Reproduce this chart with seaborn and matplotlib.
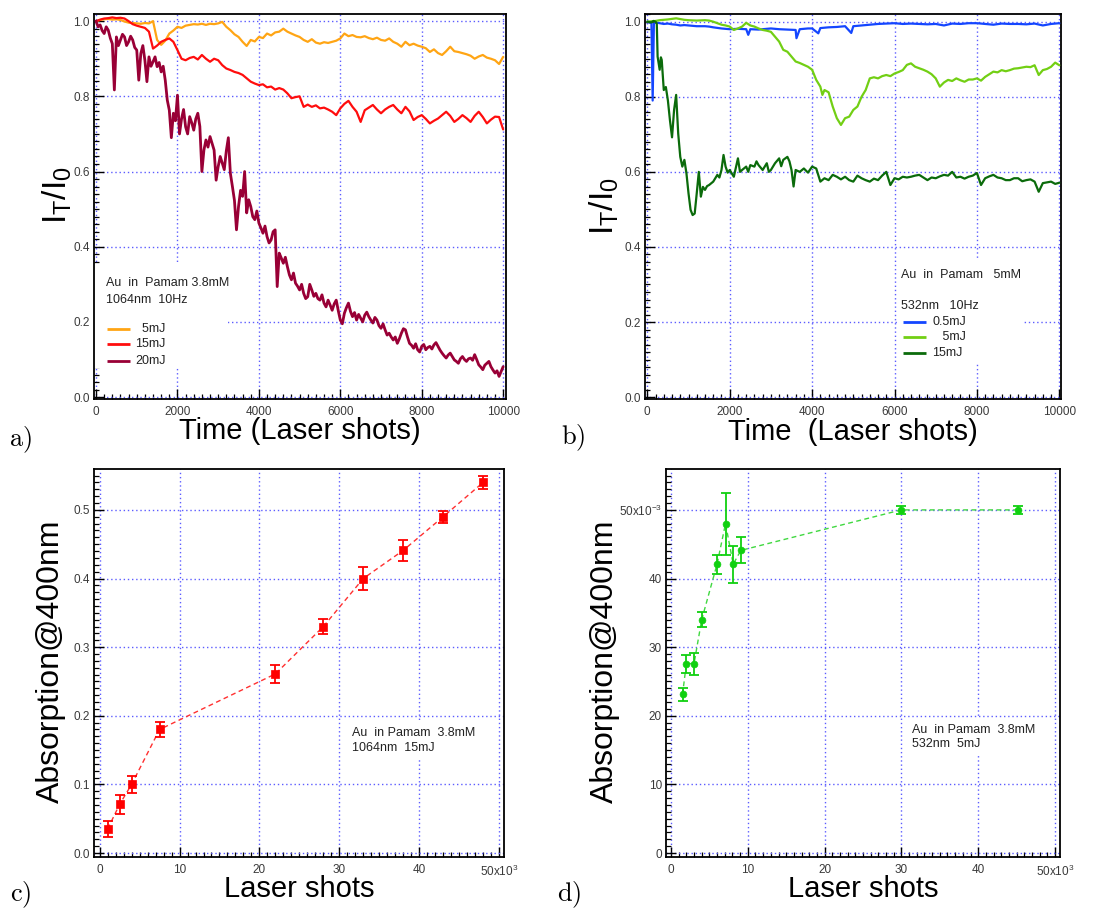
import numpy as np
import pandas as pd
import matplotlib
matplotlib.use("Agg")
import matplotlib.pyplot as plt
import seaborn as sns
from matplotlib.ticker import MultipleLocator, FuncFormatter
from matplotlib.patches import Rectangle

# ---------------------------------------------------------------- data
# a) Au in Pamam 3.8 mM, 1064 nm, 10 Hz : transmission I_T/I_0 vs laser shots
shots_a = list(range(0, 10001, 100))
t_5mJ = [1.000, 1.003, 1.005, 1.006, 1.004, 1.005, 1.003, 0.999, 0.996, 0.995,
         0.994, 0.993, 0.995, 0.994, 1.000, 0.950, 0.937, 0.948, 0.967, 0.975,
         0.985, 0.982, 0.988, 0.990, 0.992, 0.991, 0.993, 0.990, 0.993, 0.992,
         0.994, 0.998, 0.985, 0.976, 0.965, 0.958, 0.945, 0.934, 0.950, 0.946,
         0.958, 0.955, 0.967, 0.962, 0.970, 0.972, 0.980, 0.972, 0.967, 0.962,
         0.958, 0.950, 0.945, 0.952, 0.943, 0.940, 0.944, 0.942, 0.945, 0.948,
         0.954, 0.967, 0.960, 0.963, 0.958, 0.957, 0.960, 0.955, 0.952, 0.956,
         0.950, 0.948, 0.954, 0.945, 0.940, 0.932, 0.945, 0.936, 0.940, 0.935,
         0.932, 0.928, 0.918, 0.925, 0.915, 0.910, 0.920, 0.932, 0.920, 0.918,
         0.915, 0.912, 0.908, 0.900, 0.906, 0.910, 0.903, 0.900, 0.896, 0.886,
         0.905]
t_15mJ = [1.000, 1.004, 1.007, 1.008, 1.010, 1.008, 1.009, 1.007, 1.000, 0.992,
          0.988, 0.985, 0.982, 0.972, 0.927, 0.935, 0.945, 0.950, 0.954, 0.945,
          0.923, 0.900, 0.896, 0.902, 0.905, 0.898, 0.910, 0.900, 0.892, 0.900,
          0.896, 0.883, 0.874, 0.870, 0.865, 0.862, 0.857, 0.848, 0.839, 0.834,
          0.830, 0.832, 0.824, 0.826, 0.818, 0.822, 0.818, 0.808, 0.795, 0.798,
          0.800, 0.772, 0.778, 0.772, 0.776, 0.768, 0.770, 0.765, 0.759, 0.750,
          0.768, 0.780, 0.788, 0.772, 0.759, 0.732, 0.763, 0.770, 0.777, 0.765,
          0.755, 0.765, 0.772, 0.777, 0.765, 0.755, 0.772, 0.760, 0.737, 0.745,
          0.750, 0.740, 0.728, 0.735, 0.741, 0.750, 0.759, 0.748, 0.732, 0.740,
          0.750, 0.742, 0.732, 0.748, 0.759, 0.745, 0.728, 0.738, 0.746, 0.745,
          0.712]
shots_a20 = list(range(0, 10001, 50))
t_20mJ = [1.000, 0.985, 0.990, 0.975, 0.967, 0.985, 0.976, 0.955, 0.940, 0.817,
          0.958, 0.935, 0.950, 0.965, 0.958, 0.935, 0.945, 0.960, 0.950, 0.930,
          0.923, 0.843, 0.914, 0.935, 0.896, 0.839, 0.905, 0.880, 0.892, 0.905,
          0.879, 0.890, 0.865, 0.880, 0.843, 0.790, 0.763, 0.690, 0.755, 0.735,
          0.803, 0.700, 0.740, 0.765, 0.719, 0.700, 0.746, 0.730, 0.710, 0.740,
          0.755, 0.720, 0.600, 0.657, 0.684, 0.665, 0.693, 0.675, 0.657, 0.577,
          0.613, 0.640, 0.622, 0.605, 0.655, 0.690, 0.595, 0.560, 0.523, 0.445,
          0.507, 0.550, 0.534, 0.600, 0.490, 0.525, 0.507, 0.480, 0.472, 0.495,
          0.463, 0.450, 0.436, 0.455, 0.427, 0.410, 0.418, 0.440, 0.445, 0.294,
          0.383, 0.370, 0.356, 0.372, 0.347, 0.325, 0.312, 0.330, 0.303, 0.295,
          0.285, 0.300, 0.276, 0.262, 0.267, 0.300, 0.285, 0.268, 0.276, 0.262,
          0.258, 0.272, 0.250, 0.240, 0.258, 0.245, 0.231, 0.248, 0.258, 0.230,
          0.205, 0.195, 0.223, 0.238, 0.250, 0.228, 0.214, 0.225, 0.205, 0.220,
          0.210, 0.200, 0.218, 0.226, 0.214, 0.205, 0.197, 0.212, 0.205, 0.190,
          0.183, 0.195, 0.179, 0.165, 0.170, 0.160, 0.152, 0.160, 0.143, 0.155,
          0.170, 0.182, 0.179, 0.160, 0.143, 0.138, 0.130, 0.142, 0.126, 0.120,
          0.135, 0.140, 0.126, 0.132, 0.135, 0.128, 0.139, 0.145, 0.135, 0.125,
          0.117, 0.110, 0.104, 0.112, 0.117, 0.108, 0.099, 0.095, 0.090, 0.102,
          0.108, 0.100, 0.095, 0.102, 0.104, 0.098, 0.113, 0.100, 0.086, 0.080,
          0.073, 0.085, 0.090, 0.095, 0.081, 0.072, 0.064, 0.070, 0.055, 0.068,
          0.081]

# b) Au in Pamam 5 mM, 532 nm, 10 Hz
shots_b05 = [0, 50, 100, 130, 160, 200, 300, 400, 500, 600, 700, 800, 900, 1000,
             1200, 1400, 1500, 1600, 1800, 2000, 2200, 2400, 2450, 2500, 2700,
             3000, 3200, 3400, 3600, 3620, 3700, 3900, 4000, 4150, 4200, 4400,
             4600, 4800, 4950, 5000, 5200, 5400, 5600, 5800, 6000, 6200, 6400,
             6600, 6800, 7000, 7200, 7400, 7600, 7800, 8000, 8200, 8400, 8600,
             8800, 9000, 9200, 9400, 9600, 9800, 10000]
t_05mJ = [1.000, 0.998, 0.996, 0.790, 0.995, 0.998, 0.996, 0.994, 0.995, 0.993,
          0.992, 0.990, 0.991, 0.990, 0.988, 0.988, 0.987, 0.985, 0.982, 0.980,
          0.981, 0.980, 0.965, 0.980, 0.979, 0.982, 0.980, 0.979, 0.978, 0.956,
          0.980, 0.982, 0.982, 0.969, 0.983, 0.985, 0.986, 0.988, 0.970, 0.988,
          0.990, 0.992, 0.994, 0.995, 0.996, 0.994, 0.995, 0.994, 0.993, 0.994,
          0.990, 0.995, 0.994, 0.996, 0.996, 0.994, 0.992, 0.995, 0.994, 0.994,
          0.993, 0.995, 0.990, 0.994, 0.996]
shots_b5 = [0, 200, 300, 500, 700, 900, 1000, 1200, 1400, 1500, 1600, 1700,
            1800, 1900, 2000, 2100, 2200, 2300, 2400, 2500, 2600, 2700, 2800,
            2900, 3000, 3100, 3200, 3300, 3400, 3500, 3600, 3700, 3800, 3900,
            4000, 4100, 4200, 4250, 4300, 4400, 4500, 4600, 4700, 4800, 4900,
            5000, 5100, 5200, 5300, 5400, 5500, 5600, 5700, 5800, 5900, 6000,
            6100, 6200, 6300, 6400, 6500, 6600, 6700, 6800, 6900, 7000, 7100,
            7200, 7300, 7400, 7500, 7600, 7700, 7800, 7900, 8000, 8100, 8200,
            8300, 8400, 8500, 8600, 8700, 8800, 8900, 9000, 9100, 9200, 9300,
            9400, 9500, 9600, 9700, 9800, 9900, 10000]
t_5mJ_b = [1.000, 1.002, 1.004, 1.006, 1.009, 1.005, 1.004, 1.003, 1.004, 1.003,
           1.000, 0.996, 0.992, 0.990, 0.987, 0.978, 0.982, 0.987, 0.997, 0.990,
           0.987, 0.982, 0.978, 0.976, 0.973, 0.960, 0.947, 0.925, 0.920, 0.907,
           0.894, 0.890, 0.885, 0.880, 0.872, 0.845, 0.827, 0.805, 0.818, 0.812,
           0.774, 0.743, 0.725, 0.743, 0.747, 0.765, 0.774, 0.800, 0.818, 0.849,
           0.852, 0.849, 0.855, 0.858, 0.855, 0.862, 0.866, 0.871, 0.885, 0.889,
           0.880, 0.876, 0.872, 0.867, 0.860, 0.849, 0.827, 0.838, 0.845, 0.842,
           0.849, 0.844, 0.840, 0.846, 0.846, 0.849, 0.843, 0.853, 0.860, 0.867,
           0.865, 0.871, 0.868, 0.871, 0.875, 0.876, 0.878, 0.880, 0.879, 0.884,
           0.858, 0.871, 0.874, 0.880, 0.891, 0.884]
shots_b15 = [0, 100, 150, 200, 230, 250, 300, 330, 350, 400, 450, 500, 550, 600,
             650, 700, 750, 800, 850, 900, 950, 1000, 1050, 1100, 1150, 1200,
             1250, 1300, 1350, 1400, 1450, 1500, 1600, 1700, 1750, 1800, 1850,
             1900, 1950, 2000, 2100, 2200, 2250, 2300, 2400, 2450, 2500, 2600,
             2650, 2700, 2800, 2900, 2950, 3000, 3100, 3200, 3250, 3300, 3400,
             3450, 3500, 3550, 3600, 3700, 3800, 3900, 4000, 4100, 4200, 4300,
             4400, 4500, 4600, 4700, 4800, 4900, 5000, 5100, 5200, 5300, 5400,
             5500, 5600, 5700, 5800, 5900, 6000, 6100, 6200, 6300, 6400, 6500,
             6600, 6700, 6800, 6900, 7000, 7100, 7200, 7300, 7400, 7500, 7600,
             7700, 7800, 7900, 8000, 8100, 8200, 8300, 8400, 8500, 8600, 8700,
             8800, 8900, 9000, 9100, 9200, 9300, 9400, 9500, 9600, 9700, 9800,
             9900, 10000]
t_15mJ_b = [1.000, 0.998, 1.002, 1.000, 0.995, 0.907, 0.872, 0.905, 0.898, 0.818,
            0.826, 0.790, 0.737, 0.692, 0.765, 0.805, 0.702, 0.640, 0.614, 0.632,
            0.596, 0.543, 0.499, 0.485, 0.489, 0.543, 0.600, 0.534, 0.560, 0.552,
            0.562, 0.565, 0.574, 0.592, 0.585, 0.605, 0.645, 0.614, 0.598, 0.605,
            0.587, 0.636, 0.600, 0.605, 0.614, 0.600, 0.618, 0.614, 0.628, 0.618,
            0.605, 0.623, 0.600, 0.605, 0.623, 0.636, 0.615, 0.632, 0.640, 0.628,
            0.605, 0.561, 0.605, 0.600, 0.609, 0.598, 0.614, 0.609, 0.574, 0.583,
            0.578, 0.592, 0.587, 0.580, 0.587, 0.578, 0.574, 0.590, 0.583, 0.578,
            0.574, 0.582, 0.578, 0.590, 0.600, 0.565, 0.583, 0.580, 0.587, 0.585,
            0.587, 0.590, 0.592, 0.585, 0.578, 0.585, 0.583, 0.588, 0.592, 0.590,
            0.600, 0.585, 0.587, 0.582, 0.587, 0.590, 0.597, 0.565, 0.583, 0.588,
            0.592, 0.585, 0.583, 0.578, 0.578, 0.583, 0.583, 0.575, 0.578, 0.580,
            0.574, 0.547, 0.570, 0.572, 0.574, 0.568, 0.571]

# c) absorption at 400 nm, 1064 nm / 15 mJ (x in units of 10^3 shots)
shots_c = [1.0, 2.5, 4.0, 7.5, 22.0, 28.0, 33.0, 38.0, 43.0, 48.0]
abs_c = [0.035, 0.071, 0.100, 0.180, 0.261, 0.330, 0.400, 0.441, 0.490, 0.540]
err_c = [0.011, 0.014, 0.012, 0.011, 0.013, 0.011, 0.017, 0.015, 0.009, 0.010]

# d) absorption at 400 nm, 532 nm / 5 mJ (x in units of 10^3 shots)
shots_d = [1.5, 2.0, 3.0, 4.0, 6.0, 7.1, 8.1, 9.1, 30.0, 45.2]
abs_d = [0.0231, 0.0276, 0.0276, 0.0340, 0.0421, 0.0480, 0.0421, 0.0441, 0.0500, 0.0500]
err_d = [0.0010, 0.0013, 0.0016, 0.0011, 0.0014, 0.0045, 0.0027, 0.0019, 0.0006, 0.0006]

# ---------------------------------------------------------------- style
sns.set_theme(style="white")
plt.rcParams["font.family"] = ["Liberation Sans", "DejaVu Sans"]
plt.rcParams["mathtext.fontset"] = "cm"
plt.rcParams["axes.axisbelow"] = True

C_ORANGE = "#ffa514"
C_RED = "#ff0d0d"
C_MAROON = "#990036"
C_BLUE = "#1446ff"
C_LIME = "#72cf14"
C_DGREEN = "#0b6b0b"
GRID = "#5c5cff"
TICKCOL = "#3a3a3a"

W, H = 1094, 911
fig = plt.figure(figsize=(W / 100, H / 100), dpi=100)
fig.patch.set_facecolor("white")


def frame_axes(left, top, right, bottom):
    return fig.add_axes([left / W, 1 - bottom / H, (right - left) / W, (bottom - top) / H])


def style_axes(ax, xmaj, xmin, ymaj, ymin):
    ax.set_facecolor("white")
    for s in ax.spines.values():
        s.set_color("black")
        s.set_linewidth(1.3)
    ax.xaxis.set_major_locator(MultipleLocator(xmaj))
    ax.xaxis.set_minor_locator(MultipleLocator(xmin))
    ax.yaxis.set_major_locator(MultipleLocator(ymaj))
    ax.yaxis.set_minor_locator(MultipleLocator(ymin))
    ax.tick_params(which="both", direction="in", top=False, right=False,
                   bottom=True, left=True, color="black")
    ax.tick_params(which="major", length=7, width=1.0, labelsize=8.5,
                   labelcolor=TICKCOL)
    ax.tick_params(which="minor", length=3.5, width=0.9)
    ax.tick_params(axis="x", pad=5)
    ax.tick_params(axis="y", pad=3)
    ax.grid(True, which="major", color=GRID, linestyle=(0, (1, 2)), linewidth=1.0)


def legend_block(ax, x0, y_lines, y_entries, header, entries, line_x, label_x):
    for y, txt in zip(y_lines, header):
        ax.text(x0, y, txt, transform=ax.transAxes, fontsize=9, color="#222222",
                va="center", ha="left", zorder=5)
    for y, (lab, col) in zip(y_entries, entries):
        ax.plot(line_x, [y, y], transform=ax.transAxes, color=col, lw=2.0,
                solid_capstyle="butt", zorder=5)
        ax.text(label_x, y, lab, transform=ax.transAxes, fontsize=9,
                color="#222222", va="center", ha="left", zorder=5)


def time_plot(ax, series, xlim, ylim):
    for xs, ys, col, lw in series:
        df = pd.DataFrame({"shots": xs, "ratio": ys})
        sns.lineplot(data=df, x="shots", y="ratio", ax=ax, color=col, lw=lw,
                     estimator=None, sort=False, zorder=3)
    ax.set_xlim(*xlim)
    ax.set_ylim(*ylim)
    style_axes(ax, 2000, 200, 0.2, 0.02)
    ax.yaxis.set_major_formatter(FuncFormatter(lambda v, p: f"{v:.1f}"))
    ax.xaxis.set_major_formatter(FuncFormatter(lambda v, p: f"{v:.0f}"))


# ---------------------------------------------------------------- panel a
ax_a = frame_axes(94, 14, 506, 399)
time_plot(ax_a, [(shots_a, t_5mJ, C_ORANGE, 1.6),
                 (shots_a, t_15mJ, C_RED, 1.6),
                 (shots_a20, t_20mJ, C_MAROON, 2.0)],
          (-50, 10070), (-0.005, 1.019))
ax_a.add_patch(Rectangle((0.0, 0.08), 0.325, 0.27, transform=ax_a.transAxes,
                         facecolor="white", edgecolor="none", zorder=1.5))
legend_block(ax_a, 0.03, [0.30, 0.258], [0.183, 0.142, 0.100],
             ["Au  in  Pamam 3.8mM", "1064nm  10Hz"],
             [("  5mJ", C_ORANGE), ("15mJ", C_RED), ("20mJ", C_MAROON)],
             [0.032, 0.088], 0.10)
ax_a.set_xlabel("Time (Laser shots)", fontsize=21, color="black")
ax_a.set_ylabel(r"$\mathregular{I_T/I_0}$", fontsize=24, color="black")
ax_a.xaxis.set_label_coords(0.5, -0.083)
ax_a.xaxis.label.set_va("center")
ax_a.yaxis.set_label_coords(-0.088, 0.53)
ax_a.yaxis.label.set_va("center")

# ---------------------------------------------------------------- panel b
ax_b = frame_axes(645, 14, 1061, 399)
time_plot(ax_b, [(shots_b05, t_05mJ, C_BLUE, 1.6),
                 (shots_b5, t_5mJ_b, C_LIME, 1.6),
                 (shots_b15, t_15mJ_b, C_DGREEN, 1.6)],
          (-56, 10041), (-0.005, 1.0205))
ax_b.add_patch(Rectangle((0.607, 0.094), 0.302, 0.268, transform=ax_b.transAxes,
                         facecolor="white", edgecolor="none", zorder=1.5))
legend_block(ax_b, 0.615, [0.322, 0.242], [0.201, 0.160, 0.119],
             ["Au  in  Pamam   5mM", "532nm   10Hz"],
             [("0.5mJ", C_BLUE), ("   5mJ", C_LIME), ("15mJ", C_DGREEN)],
             [0.620, 0.675], 0.690)
ax_b.set_xlabel("Time  (Laser shots)", fontsize=21, color="black")
ax_b.set_ylabel(r"$\mathregular{I_T/I_0}$", fontsize=24, color="black")
ax_b.xaxis.set_label_coords(0.5, -0.086)
ax_b.xaxis.label.set_va("center")
ax_b.yaxis.set_label_coords(-0.097, 0.5)
ax_b.yaxis.label.set_va("center")


# ---------------------------------------------------------------- panels c, d
def absorption_plot(ax, xs, ys, es, col, line_col, marker, ms):
    df = pd.DataFrame({"kshots": xs, "absorb": ys})
    sns.lineplot(data=df, x="kshots", y="absorb", ax=ax, color=line_col, lw=1.0,
                 estimator=None, sort=False, zorder=3, dashes=False,
                 linestyle=(0, (3.5, 2.5)))
    ax.errorbar(xs, ys, yerr=es, fmt="none", ecolor=col, elinewidth=1.3,
                capsize=3.5, capthick=1.3, zorder=4)
    sns.scatterplot(data=df, x="kshots", y="absorb", ax=ax, color=col,
                    marker=marker, s=ms, edgecolor=col, linewidth=0.5, zorder=5)


ax_c = frame_axes(94, 469, 504, 857)
absorption_plot(ax_c, shots_c, abs_c, err_c, "#ff0000", "#ff3030", "s", 32)
ax_c.set_xlim(-0.71, 50.62)
ax_c.set_ylim(-0.0058, 0.5596)
style_axes(ax_c, 10, 1, 0.1, 0.01)
ax_c.yaxis.set_major_formatter(FuncFormatter(lambda v, p: f"{v:.1f}"))
ax_c.xaxis.set_major_formatter(FuncFormatter(
    lambda v, p: r"$\mathregular{50x10^3}$" if round(v) == 50 else f"{v:.0f}"))
ax_c.text(0.63, 0.30, "Au  in Pamam  3.8mM\n1064nm  15mJ", transform=ax_c.transAxes,
          fontsize=9, color="#222222", va="center", ha="left", linespacing=1.25,
          zorder=6, bbox=dict(facecolor="white", edgecolor="none", pad=4))
ax_c.set_xlabel("Laser shots", fontsize=21, color="black")
ax_c.set_ylabel("Absorption@400nm", fontsize=23, color="black")
ax_c.xaxis.set_label_coords(0.5, -0.082)
ax_c.xaxis.label.set_va("center")
ax_c.yaxis.set_label_coords(-0.105, 0.505)
ax_c.yaxis.label.set_va("center")

ax_d = frame_axes(666, 469, 1060, 857)
absorption_plot(ax_d, shots_d, abs_d, err_d, "#10d010", "#40d840", "o", 24)
ax_d.set_xlim(-0.65, 50.65)
ax_d.set_ylim(-0.00058, 0.05596)
style_axes(ax_d, 10, 1, 0.01, 0.001)
ax_d.yaxis.set_major_formatter(FuncFormatter(
    lambda v, p: r"$\mathregular{50x10^{-3}}$" if round(v * 1000) == 50 else f"{v * 1000:.0f}"))
ax_d.xaxis.set_major_formatter(FuncFormatter(
    lambda v, p: r"$\mathregular{50x10^3}$" if round(v) == 50 else f"{v:.0f}"))
ax_d.text(0.625, 0.31, "Au  in Pamam  3.8mM\n532nm  5mJ", transform=ax_d.transAxes,
          fontsize=9, color="#222222", va="center", ha="left", linespacing=1.25,
          zorder=6, bbox=dict(facecolor="white", edgecolor="none", pad=4))
ax_d.set_xlabel("Laser shots", fontsize=21, color="black")
ax_d.set_ylabel("Absorption@400nm", fontsize=23, color="black")
ax_d.xaxis.set_label_coords(0.5, -0.082)
ax_d.xaxis.label.set_va("center")
ax_d.yaxis.set_label_coords(-0.155, 0.505)
ax_d.yaxis.label.set_va("center")

# ---------------------------------------------------------------- panel letters
for lab, x, y in [("a)", 20, 440), ("b)", 573, 438), ("c)", 21, 895), ("d)", 569, 895)]:
    fig.text(x / W, 1 - y / H, r"$\mathrm{" + lab + "}$", fontsize=19,
             ha="center", va="center", color="black")

fig.savefig("out.png", dpi=100, facecolor="white")
